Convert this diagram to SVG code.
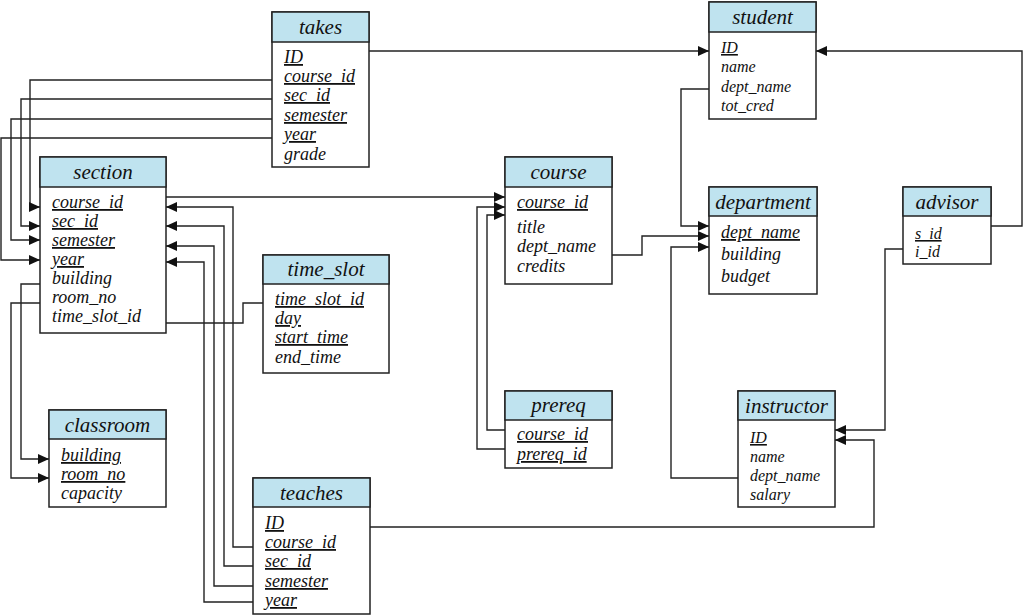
<svg xmlns="http://www.w3.org/2000/svg" width="1024" height="616" viewBox="0 0 1024 616">
<style>
.box{fill:#fff;stroke:#222;stroke-width:1.5}
.hdr{fill:#bfe3ef;stroke:#222;stroke-width:1.5}
.t{font-family:"Liberation Serif",serif;font-style:italic;fill:#111}
.h{font-size:21px;text-anchor:middle}
.a{font-size:18px}
.s{font-size:16px}
.u{text-decoration:underline}
.c{fill:none;stroke:#222;stroke-width:1.4}
</style>
<defs>
<marker id="ar" markerUnits="userSpaceOnUse" markerWidth="11" markerHeight="10" refX="11" refY="5" orient="auto">
<path d="M0,0 L11,5 L0,10 z" fill="#111"/>
</marker>
</defs>
<rect width="1024" height="616" fill="#fff"/>
<g id="connectors">
<path class="c" d="M369,51 H709" marker-end="url(#ar)"/>
<path class="c" d="M272,80 H30 V207 H40" marker-end="url(#ar)"/>
<path class="c" d="M272,99 H21 V226 H40" marker-end="url(#ar)"/>
<path class="c" d="M272,119 H11 V240 H40" marker-end="url(#ar)"/>
<path class="c" d="M272,138 H1 V260 H40" marker-end="url(#ar)"/>
<path class="c" d="M40,284 H21 V459 H49" marker-end="url(#ar)"/>
<path class="c" d="M40,303 H11 V478 H49" marker-end="url(#ar)"/>
<path class="c" d="M166,323 H243 V303 H263"/>
<path class="c" d="M166,197 H505" marker-end="url(#ar)"/>
<path class="c" d="M253,547 H233 V207 H166" marker-end="url(#ar)"/>
<path class="c" d="M253,566 H224 V226 H166" marker-end="url(#ar)"/>
<path class="c" d="M253,586 H214 V246 H166" marker-end="url(#ar)"/>
<path class="c" d="M253,602 H204 V262 H166" marker-end="url(#ar)"/>
<path class="c" d="M370,527 H874 V440 H835" marker-end="url(#ar)"/>
<path class="c" d="M505,430 H487 V215 H505" marker-end="url(#ar)"/>
<path class="c" d="M505,449 H477 V207 H505" marker-end="url(#ar)"/>
<path class="c" d="M612,255 H642 V236 H709" marker-end="url(#ar)"/>
<path class="c" d="M709,89 H681 V226 H709" marker-end="url(#ar)"/>
<path class="c" d="M738,478 H671 V247 H709" marker-end="url(#ar)"/>
<path class="c" d="M991,226 H1022 V51 H816" marker-end="url(#ar)"/>
<path class="c" d="M903,249 H885 V430 H835" marker-end="url(#ar)"/>
</g>
<g id="takes">
<rect class="box" x="272" y="12" width="97" height="155"/>
<rect class="hdr" x="272" y="12" width="97" height="30"/>
<text class="t h" x="320.5" y="34">takes</text>
<text class="t a u" x="284" y="63">ID</text>
<text class="t a u" x="284" y="82">course_id</text>
<text class="t a u" x="284" y="101">sec_id</text>
<text class="t a u" x="284" y="121">semester</text>
<text class="t a u" x="284" y="140">year</text>
<text class="t a" x="284" y="160">grade</text>
</g>
<g id="section">
<rect class="box" x="40" y="157" width="126" height="176"/>
<rect class="hdr" x="40" y="157" width="126" height="30"/>
<text class="t h" x="103" y="179">section</text>
<text class="t a u" x="52" y="208">course_id</text>
<text class="t a u" x="52" y="227">sec_id</text>
<text class="t a u" x="52" y="246">semester</text>
<text class="t a u" x="52" y="265">year</text>
<text class="t a" x="52" y="284">building</text>
<text class="t a" x="52" y="303">room_no</text>
<text class="t a" x="52" y="322">time_slot_id</text>
</g>
<g id="time_slot">
<rect class="box" x="263" y="255" width="126" height="118"/>
<rect class="hdr" x="263" y="255" width="126" height="29"/>
<text class="t h" x="326" y="276">time_slot</text>
<text class="t a u" x="275" y="305">time_slot_id</text>
<text class="t a u" x="275" y="324">day</text>
<text class="t a u" x="275" y="343">start_time</text>
<text class="t a" x="275" y="363">end_time</text>
</g>
<g id="classroom">
<rect class="box" x="49" y="410" width="117" height="97"/>
<rect class="hdr" x="49" y="410" width="117" height="29"/>
<text class="t h" x="107.5" y="432">classroom</text>
<text class="t a u" x="61" y="461">building</text>
<text class="t a u" x="61" y="480">room_no</text>
<text class="t a" x="61" y="499">capacity</text>
</g>
<g id="teaches">
<rect class="box" x="253" y="478" width="117" height="136"/>
<rect class="hdr" x="253" y="478" width="117" height="29"/>
<text class="t h" x="311.5" y="500">teaches</text>
<text class="t a u" x="265" y="529">ID</text>
<text class="t a u" x="265" y="548">course_id</text>
<text class="t a u" x="265" y="567">sec_id</text>
<text class="t a u" x="265" y="587">semester</text>
<text class="t a u" x="265" y="606">year</text>
</g>
<g id="course">
<rect class="box" x="505" y="157" width="107" height="127"/>
<rect class="hdr" x="505" y="157" width="107" height="30"/>
<text class="t h" x="558.5" y="179">course</text>
<text class="t a u" x="517" y="208">course_id</text>
<text class="t a" x="517" y="233">title</text>
<text class="t a" x="517" y="252">dept_name</text>
<text class="t a" x="517" y="272">credits</text>
</g>
<g id="prereq">
<rect class="box" x="505" y="391" width="107" height="77"/>
<rect class="hdr" x="505" y="391" width="107" height="29"/>
<text class="t h" x="558.5" y="412">prereq</text>
<text class="t a u" x="517" y="440">course_id</text>
<text class="t a u" x="517" y="460">prereq_id</text>
</g>
<g id="student">
<rect class="box" x="709" y="2" width="107" height="117"/>
<rect class="hdr" x="709" y="2" width="107" height="30"/>
<text class="t h" x="762.5" y="24">student</text>
<text class="t s u" x="721" y="53">ID</text>
<text class="t s" x="721" y="72">name</text>
<text class="t s" x="721" y="92">dept_name</text>
<text class="t s" x="721" y="111">tot_cred</text>
</g>
<g id="department">
<rect class="box" x="709" y="187" width="108" height="107"/>
<rect class="hdr" x="709" y="187" width="108" height="29"/>
<text class="t h" x="763" y="209">department</text>
<text class="t a u" x="721" y="238">dept_name</text>
<text class="t a" x="721" y="260">building</text>
<text class="t a" x="721" y="282">budget</text>
</g>
<g id="advisor">
<rect class="box" x="903" y="187" width="88" height="77"/>
<rect class="hdr" x="903" y="187" width="88" height="29"/>
<text class="t h" x="947" y="209">advisor</text>
<text class="t s u" x="915" y="239">s_id</text>
<text class="t s" x="915" y="257">i_id</text>
</g>
<g id="instructor">
<rect class="box" x="738" y="391" width="97" height="116"/>
<rect class="hdr" x="738" y="391" width="97" height="29"/>
<text class="t h" x="786.5" y="413">instructor</text>
<text class="t s u" x="750" y="443">ID</text>
<text class="t s" x="750" y="462">name</text>
<text class="t s" x="750" y="481">dept_name</text>
<text class="t s" x="750" y="500">salary</text>
</g>
</svg>
